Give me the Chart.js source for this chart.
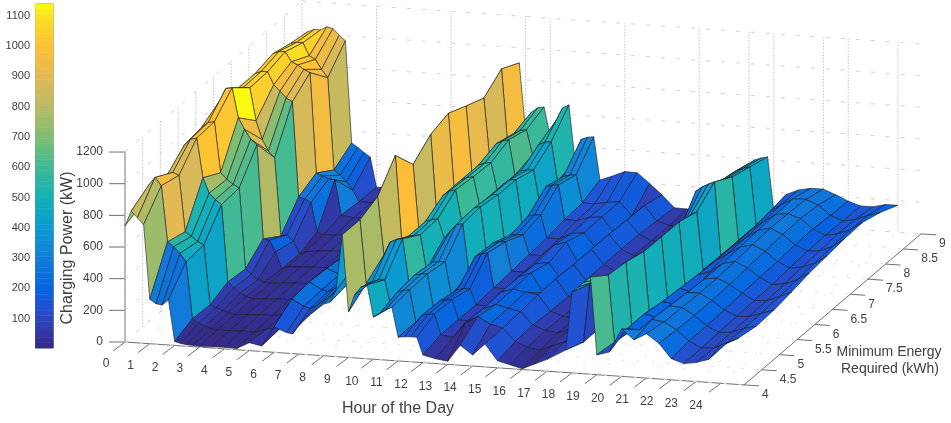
<!DOCTYPE html>
<html>
<head>
<meta charset="utf-8">
<title>Charging power surface</title>
<script src="https://cdn.jsdelivr.net/npm/chart.js@4"></script>
<style>
  html, body { margin: 0; padding: 0; background: #fff; }
  canvas { display: block; }
</style>
</head>
<body>
<canvas id="surface" width="951" height="423"></canvas>
<script>
// Hour columns of the surface. Finer where the walls are.
const hours = [0,.25,.5,.75, 1,1.25,1.5,1.75, 2,2.25,2.5,2.75, 3,3.5,4,4.5,5,5.5,6,6.5,
  6.75,7,7.5,8,8.25,8.5,8.75, 9,9.25,9.5,9.75, 10,10.25,10.5,10.75, 11,11.25,11.5,11.75,
  12,12.5,13,13.5, 14,14.5,15,15.5,16, 16.5,17,17.75,18,18.25,18.5, 18.75, 19,19.5,
  20,20.5,21,21.5,22,22.5,23,23.5,24];
const energies = [4,4.5,5,5.5,6,6.5,7,7.5,8,8.5,9];

// Charging power (kW), one array per minimum energy level
const power40 = [734,830,790,750, 280,255,250,285, 25,15,10,8, 5,8,10,8,50,35,160,130, 124,180,260,326,340,420,772, 288,400,450,466, 266,290,320,335, 150,155,158,158, 48,30,20,126, 70,145,44,25,5, 40,75,142,512,545,580, 614, 125,148, 300,236,280,225,134,108,120,145,242];
const power45 = [780,900,950,900, 548,520,480,430, 72,50,30,20, 12,14,18,15,40,45,242,200, 190,210,270,345,360,470,772, 370,385,400,403, 233,330,345,350, 150,195,205,209, 80,70,170,212, 170,150,70,40,25, 60,90,97,468,490,510, 531, 110,200, 198,270,260,215,150,110,115,150,190];
const power50 = [800,860,886,870, 516,490,460,442, 65,50,35,28, 15,20,25,25,40,60,254,210, 200,220,280,335,380,500,823, 457,540,560,567, 300,345,352,356, 140,190,200,203, 80,75,160,192, 175,157,80,50,40, 70,90,100,150,170,200, 519, 90,200, 178,260,255,210,150,115,120,150,170];
const power55 = [850,960,1000,1010, 762,668,630,600, 115,80,50,30, 20,25,30,30,45,60,245,210, 200,220,290,330,400,550,987, 463,480,490,497, 280,330,336,337, 130,165,175,177, 80,75,170,195, 180,170,70,45,35, 60,80,100,150,170,200, 487, 66,180, 171,250,250,210,155,120,125,150,177];
const power60 = [900,980,1010,1018, 698,660,630,611, 101,70,40,27, 25,30,35,35,50,70,230,200, 200,230,300,350,420,560,835, 393,480,495,503, 383,430,475,481, 170,280,300,309, 90,90,170,201, 80,175,70,40,30, 50,80,100,150,170,200, 486, 90,170, 146,240,250,215,165,125,130,160,196];
const power65 = [950,1050,1130,1137, 950,880,820,788, 196,190,120,15, 30,35,40,40,60,80,110,140, 300,320,350,370,450,580,930, 399,550,580,590, 389,440,485,494, 190,270,280,283, 100,100,160,169, 70,170,75,40,30, 50,80,100,150,170,200, 485, 64,160, 184,240,260,225,170,130,140,170,220];
const power70 = [1000,1030,1042,1042, 836,720,650,610, 119,128,90,13, 30,40,45,50,70,90,120,150, 320,340,370,400,480,600,968, 450,550,570,577, 400,440,470,474, 190,225,230,232, 110,110,180,206, 70,170,80,40,30, 50,80,100,300,380,430, 453, 89,150, 203,250,270,235,175,140,150,180,234];
const power75 = [930,1030,1047,1047, 968,930,890,868, 270,260,240,60, 40,45,50,55,75,95,130,160, 350,370,400,430,500,620,918, 460,550,565,570, 400,440,470,473, 200,250,260,263, 120,120,160,168, 70,170,80,45,35, 60,90,110,480,510,530, 547, 85,150, 207,260,280,245,185,150,160,190,247];
const power80 = [940,1060,1078,1078, 1018,1000,975,957, 326,310,295,290, 70,60,60,65,80,100,140,170, 380,400,420,450,520,640,873, 470,590,610,620, 400,430,438,441, 230,340,352,357, 140,140,165,173, 80,165,80,45,40, 60,100,120,420,450,470, 483, 85,155, 213,265,275,250,190,155,170,200,253];
const power85 = [970,1030,1040,1040, 960,940,880,830, 250,220,180,131, 60,60,65,70,85,110,150,180, 400,420,440,470,540,660,962, 480,560,580,588, 430,500,518,523, 280,310,320,325, 150,150,165,173, 90,160,70,45,40, 60,110,130,400,425,440, 451, 85,170, 225,270,270,240,180,150,165,195,220];
const power90 = [930,1010,1026,1026, 1048,1040,1000,968, 325,300,270,244, 57,60,70,80,90,120,160,190, 420,440,460,490,560,680,904, 484,600,630,637, 450,560,640,661, 300,450,465,470, 200,230,264,262, 200,133,57,55,50, 70,120,140,370,395,410, 419, 85,190, 224,240,240,210,175,150,150,170,170];
const powerRows = [power40,power45,power50,power55,power60,power65,power70,power75,power80,power85,power90];

// Tick labels
const hourTicks = [0,1,2,3,4,5,6,7,8,9,10,11,12,13,14,15,16,17,18,19,20,21,22,23,24];
const energyTicks = ['4','4.5','5','5.5','6','6.5','7','7.5','8','8.5','9'];
const powerTicks = [0,200,400,600,800,1000,1200];
const colorTicks = [100,200,300,400,500,600,700,800,900,1000,1100];
const backGridHours = [3,6,9,10,13,16,18,19,21,22,24];

// Color range and parula stops
const colorMin = 3, colorMax = 1139;
const parula = [[0,53,42,135],[.06,48,60,175],[.125,32,83,212],[.17,5,100,225],[.26,20,125,215],[.35,10,155,210],
  [.44,21,177,180],[.52,60,185,150],[.61,125,190,115],[.70,185,186,100],[.785,225,185,85],[.87,253,190,55],[.96,248,225,35],[1,249,251,14]];

function power_color(v) {
    let t = Math.min(1, Math.max(0, (v - colorMin) / (colorMax - colorMin)));
    for (let i = 1; i < parula.length; i++) {
        if (t <= parula[i][0]) {
            let a = parula[i-1], b = parula[i];
            let f = (t - a[0]) / (b[0] - a[0]);
            return 'rgb(' + [1,2,3].map(k => Math.round(a[k] + (b[k] - a[k]) * f)).join(',') + ')';
        }
    }
    return 'rgb(249,251,14)';
}

// Fixed view of the 3D box onto the page
function project(h, e, p) {
    return {
        x: 125 + 24.83 * h + 35.4 * (e - 4),
        y: 342 + 1.72 * h - 30.2 * (e - 4) - 0.1583 * p
    };
}

function colorbar_y(v) {
    return 318.7 - (v - 100) * 0.303;
}

let datasets = [];

// surface, nearest faces first because the first dataset ends up on top
for (let j = 0; j < energies.length - 1; j++) {
    for (let i = hours.length - 2; i >= 0; i--) {
        let a = project(hours[i], energies[j], powerRows[j][i]);
        let b = project(hours[i+1], energies[j], powerRows[j][i+1]);
        let c = project(hours[i+1], energies[j+1], powerRows[j+1][i+1]);
        let d = project(hours[i], energies[j+1], powerRows[j+1][i]);
        datasets.push({
            data: [a, b, c, d, a],
            showLine: true,
            fill: 'shape',
            backgroundColor: power_color(powerRows[j][i]),
            borderColor: 'rgba(25,25,35,0.85)',
            borderWidth: 0.7,
            pointRadius: 0,
            tension: 0
        });
    }
}

function grid_line(p0, p1, dash, color) {
    datasets.push({
        data: [p0, p1],
        showLine: true,
        fill: false,
        borderColor: color,
        borderWidth: 1,
        borderDash: dash,
        pointRadius: 0,
        tension: 0
    });
}

const gridColor = '#d0d0d0';
const dashH = [4, 11], dashV = [1.5, 1.5];
const hourEnd = 24.93;

// back wall and side wall
for (const p of powerTicks) {
    grid_line(project(0, 4, p), project(0, 9, p), dashH, gridColor);
    grid_line(project(0, 9, p), project(hourEnd, 9, p), dashH, gridColor);
}
for (const h of backGridHours) {
    grid_line(project(h, 9, 0), project(h, 9, 1200), dashV, '#c4c4c4');
}
for (const e of energies) {
    grid_line(project(0, e, 0), project(0, e, 1200), dashV, '#c4c4c4');
}
// floor
for (const h of hourTicks) {
    grid_line(project(h, 4, 0), project(h, 9, 0), [3, 12], '#dedede');
}
for (const e of energies) {
    grid_line(project(0, e, 0), project(hourEnd, e, 0), [3, 12], '#dedede');
}

// axis lines and tick marks
const axisColor = '#6e6e6e';
grid_line(project(0, 4, 0), project(hourEnd, 4, 0), [], axisColor);
grid_line(project(hourEnd, 4, 0), project(hourEnd, 9, 0), [], axisColor);
grid_line(project(0, 4, 0), project(0, 4, 1200), [], axisColor);
for (const h of hourTicks) {
    let q = project(h, 4, 0);
    grid_line(q, {x: q.x - 12, y: q.y + 9}, [], axisColor);
}
for (const e of energies) {
    let q = project(hourEnd, e, 0);
    grid_line(q, {x: q.x + 15, y: q.y + 1}, [], axisColor);
}
for (const p of powerTicks) {
    let q = project(0, 4, p);
    grid_line(q, {x: q.x - 16, y: q.y}, [], axisColor);
}

// colorbar cells
const barSteps = 64;
for (let k = 0; k < barSteps; k++) {
    let v0 = colorMin + (colorMax - colorMin) * k / barSteps;
    let v1 = colorMin + (colorMax - colorMin) * (k + 1) / barSteps;
    let y0 = colorbar_y(v0), y1 = colorbar_y(v1);
    datasets.push({
        data: [{x:35.7,y:y0},{x:53.3,y:y0},{x:53.3,y:y1},{x:35.7,y:y1},{x:35.7,y:y0}],
        showLine: true,
        fill: 'shape',
        backgroundColor: power_color((v0 + v1) / 2),
        borderColor: power_color((v0 + v1) / 2),
        borderWidth: 0.5,
        pointRadius: 0,
        tension: 0
    });
}
for (const v of colorTicks) {
    grid_line({x:35.7,y:colorbar_y(v)}, {x:38,y:colorbar_y(v)}, [], '#777');
}
grid_line({x:35.7,y:colorbar_y(colorMin)}, {x:35.7,y:colorbar_y(colorMax)}, [], '#999');
grid_line({x:53.3,y:colorbar_y(colorMin)}, {x:53.3,y:colorbar_y(colorMax)}, [], '#999');
grid_line({x:35.7,y:colorbar_y(colorMax)}, {x:53.3,y:colorbar_y(colorMax)}, [], '#999');
grid_line({x:35.7,y:colorbar_y(colorMin)}, {x:53.3,y:colorbar_y(colorMin)}, [], '#999');

// tick labels and axis titles, placed through the chart's scales
const textPlugin = {
    id: 'axisText',
    afterDraw(chart) {
        const ctx = chart.ctx;
        const sx = chart.scales.x, sy = chart.scales.y;
        function text(str, x, y, align, font) {
            ctx.font = font;
            ctx.textAlign = align;
            ctx.fillText(str, sx.getPixelForValue(x), sy.getPixelForValue(y));
        }
        const small = '12px "Liberation Sans", Arial, sans-serif';
        const bar = '11px "Liberation Sans", Arial, sans-serif';
        ctx.save();
        ctx.fillStyle = '#404040';
        ctx.textBaseline = 'middle';
        for (const h of hourTicks) {
            let q = project(h, 4, 0);
            text(String(h), q.x - 19 - h * 0.25, q.y + 22, 'center', small);
        }
        energyTicks.forEach(function(label) {
            let q = project(hourEnd, Number(label), 0);
            text(label, q.x + 18, q.y + 10, 'left', small);
        });
        for (const p of powerTicks) {
            let q = project(0, 4, p);
            text(String(p), 103, q.y, 'right', small);
        }
        for (const v of colorTicks) {
            text(String(v), 30, colorbar_y(v), 'right', bar);
        }
        text('Hour of the Day', 398, 409, 'center', '16px "Liberation Sans", Arial, sans-serif');
        text('Minimum Energy', 889, 352, 'center', '14px "Liberation Sans", Arial, sans-serif');
        text('Required (kWh)', 890, 369, 'center', '14px "Liberation Sans", Arial, sans-serif');
        ctx.translate(sx.getPixelForValue(68), sy.getPixelForValue(248));
        ctx.rotate(-Math.PI / 2);
        ctx.font = '16px "Liberation Sans", Arial, sans-serif';
        ctx.textAlign = 'center';
        ctx.fillText('Charging Power (kW)', 0, 0);
        ctx.restore();
    }
};

new Chart(document.getElementById('surface'), {
    type: 'scatter',
    data: { datasets: datasets },
    plugins: [textPlugin],
    options: {
        responsive: false,
        animation: false,
        events: [],
        layout: { padding: 0 },
        plugins: { legend: { display: false }, tooltip: { enabled: false } },
        scales: {
            x: { type: 'linear', display: false, min: 0, max: 951 },
            y: { type: 'linear', display: false, min: 0, max: 423, reverse: true }
        }
    }
});
</script>
</body>
</html>
